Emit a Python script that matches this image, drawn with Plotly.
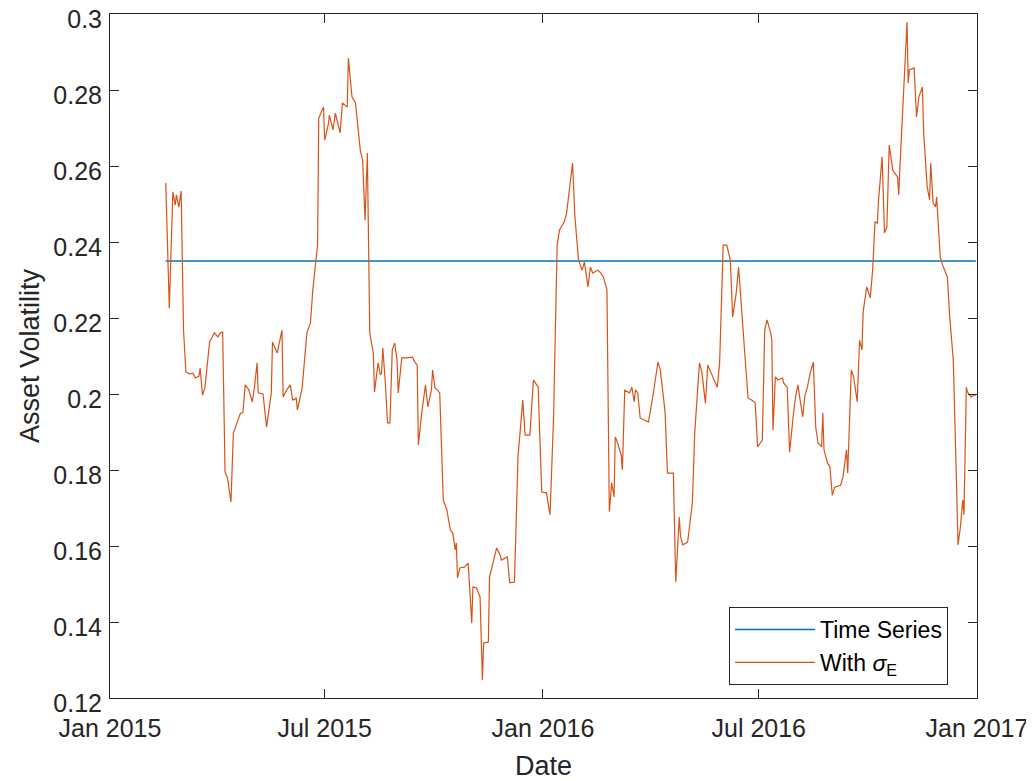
import plotly.graph_objects as go

# ---- data ----
ts_dates = ["2015-02-17", "2016-12-31"]
ts_values = [0.235, 0.235]

sig_dates = [
    "2015-02-17", "2015-02-20", "2015-02-23", "2015-02-25", "2015-02-26", "2015-02-28",
    "2015-03-02", "2015-03-04", "2015-03-06", "2015-03-09", "2015-03-12", "2015-03-14",
    "2015-03-17", "2015-03-18", "2015-03-20", "2015-03-22", "2015-03-26", "2015-03-29",
    "2015-03-30", "2015-04-02", "2015-04-04", "2015-04-06", "2015-04-08", "2015-04-10",
    "2015-04-13", "2015-04-15", "2015-04-18", "2015-04-21", "2015-04-23", "2015-04-25",
    "2015-04-28", "2015-05-01", "2015-05-03", "2015-05-05", "2015-05-06", "2015-05-10",
    "2015-05-13", "2015-05-17", "2015-05-18", "2015-05-22", "2015-05-26", "2015-05-27",
    "2015-05-30", "2015-06-02", "2015-06-04", "2015-06-07", "2015-06-08", "2015-06-12",
    "2015-06-16", "2015-06-19", "2015-06-21", "2015-06-24", "2015-06-25", "2015-06-26",
    "2015-06-30", "2015-07-01", "2015-07-04", "2015-07-05", "2015-07-08", "2015-07-10",
    "2015-07-12", "2015-07-14", "2015-07-16", "2015-07-20", "2015-07-21", "2015-07-24",
    "2015-07-27", "2015-07-31", "2015-08-02", "2015-08-04", "2015-08-06", "2015-08-07",
    "2015-08-08", "2015-08-11", "2015-08-12", "2015-08-15", "2015-08-17", "2015-08-18",
    "2015-08-19", "2015-08-21", "2015-08-23", "2015-08-25", "2015-08-27", "2015-08-29",
    "2015-08-31", "2015-09-01", "2015-09-04", "2015-09-08", "2015-09-13", "2015-09-15",
    "2015-09-17", "2015-09-18", "2015-09-21", "2015-09-24", "2015-09-26", "2015-09-29",
    "2015-09-30", "2015-10-02", "2015-10-04", "2015-10-06", "2015-10-09", "2015-10-12",
    "2015-10-15", "2015-10-17", "2015-10-19", "2015-10-20", "2015-10-21", "2015-10-23",
    "2015-10-27", "2015-10-30", "2015-11-02", "2015-11-03", "2015-11-06", "2015-11-09",
    "2015-11-11", "2015-11-12", "2015-11-16", "2015-11-17", "2015-11-20", "2015-11-23",
    "2015-11-26", "2015-11-27", "2015-12-02", "2015-12-04", "2015-12-08", "2015-12-11",
    "2015-12-15", "2015-12-17", "2015-12-21", "2015-12-24", "2015-12-28", "2015-12-31",
    "2016-01-04", "2016-01-07", "2016-01-10", "2016-01-13", "2016-01-15", "2016-01-19",
    "2016-01-21", "2016-01-26", "2016-01-28", "2016-01-31", "2016-02-03", "2016-02-05",
    "2016-02-08", "2016-02-10", "2016-02-12", "2016-02-16", "2016-02-18", "2016-02-21",
    "2016-02-24", "2016-02-26", "2016-02-28", "2016-03-01", "2016-03-02", "2016-03-04",
    "2016-03-07", "2016-03-08", "2016-03-10", "2016-03-14", "2016-03-16", "2016-03-18",
    "2016-03-19", "2016-03-21", "2016-03-23", "2016-03-30", "2016-04-03", "2016-04-07",
    "2016-04-09", "2016-04-13", "2016-04-15", "2016-04-20", "2016-04-22", "2016-04-25",
    "2016-04-26", "2016-04-28", "2016-05-02", "2016-05-06", "2016-05-08", "2016-05-12",
    "2016-05-14", "2016-05-17", "2016-05-19", "2016-05-23", "2016-05-27", "2016-05-29",
    "2016-06-01", "2016-06-04", "2016-06-07", "2016-06-09", "2016-06-12", "2016-06-14",
    "2016-06-18", "2016-06-19", "2016-06-22", "2016-06-25", "2016-06-28", "2016-06-30",
    "2016-07-04", "2016-07-06", "2016-07-08", "2016-07-11", "2016-07-12", "2016-07-13",
    "2016-07-15", "2016-07-17", "2016-07-21", "2016-07-22", "2016-07-25", "2016-07-27",
    "2016-07-30", "2016-08-01", "2016-08-03", "2016-08-07", "2016-08-09", "2016-08-11",
    "2016-08-13", "2016-08-16", "2016-08-18", "2016-08-20", "2016-08-23", "2016-08-24",
    "2016-08-25", "2016-08-28", "2016-08-30", "2016-09-01", "2016-09-03", "2016-09-08",
    "2016-09-10", "2016-09-13", "2016-09-14", "2016-09-17", "2016-09-19", "2016-09-22",
    "2016-09-24", "2016-09-26", "2016-09-27", "2016-09-30", "2016-10-03", "2016-10-05",
    "2016-10-07", "2016-10-09", "2016-10-10", "2016-10-13", "2016-10-15", "2016-10-17",
    "2016-10-19", "2016-10-22", "2016-10-26", "2016-10-27", "2016-10-28", "2016-10-31",
    "2016-11-01", "2016-11-03", "2016-11-04", "2016-11-05", "2016-11-09", "2016-11-11",
    "2016-11-13", "2016-11-16", "2016-11-17", "2016-11-20", "2016-11-22", "2016-11-23",
    "2016-11-25", "2016-11-27", "2016-11-28", "2016-12-01", "2016-12-03", "2016-12-07",
    "2016-12-09", "2016-12-12", "2016-12-14", "2016-12-16", "2016-12-18", "2016-12-20",
    "2016-12-21", "2016-12-23", "2016-12-24", "2016-12-27", "2016-12-29", "2016-12-31",
]
sig_values = [
    0.2555, 0.2226, 0.2532, 0.2497, 0.2524, 0.2492,
    0.2534, 0.2168, 0.2058, 0.2053, 0.2055, 0.2042,
    0.2047, 0.2068, 0.1997, 0.2016, 0.2137, 0.2155,
    0.2161, 0.2150, 0.2161, 0.2163, 0.1795, 0.1779,
    0.1716, 0.1897, 0.1926, 0.1950, 0.1950, 0.2024,
    0.2011, 0.1979, 0.2024, 0.2082, 0.2003, 0.2000,
    0.1913, 0.2003, 0.2137, 0.2108, 0.2168, 0.1992,
    0.2011, 0.2024, 0.1984, 0.1989, 0.1958, 0.2016,
    0.2161, 0.2187, 0.2274, 0.2379, 0.2392, 0.2726,
    0.2755, 0.2668, 0.2708, 0.2734, 0.2695, 0.2739,
    0.2708, 0.2687, 0.2766, 0.2755, 0.2884, 0.2782,
    0.2766, 0.2642, 0.2616, 0.2458, 0.2634, 0.2334,
    0.2161, 0.2108, 0.2005, 0.2082, 0.2050, 0.2055,
    0.2121, 0.2037, 0.1924, 0.1924, 0.2116, 0.2134,
    0.2089, 0.2003, 0.2095, 0.2095, 0.2097, 0.2084,
    0.2076, 0.1866, 0.1955, 0.2024, 0.1966, 0.2011,
    0.2063, 0.2016, 0.2011, 0.2003, 0.1721, 0.1695,
    0.1642, 0.1634, 0.1590, 0.1608, 0.1516, 0.1542,
    0.1545, 0.1555, 0.1397, 0.1492, 0.1490, 0.1466,
    0.1247, 0.1345, 0.1347, 0.1518, 0.1555, 0.1595,
    0.1576, 0.1563, 0.1571, 0.1503, 0.1505, 0.1834,
    0.1984, 0.1892, 0.1892, 0.2037, 0.2018, 0.1742,
    0.1740, 0.1682, 0.1939, 0.2392, 0.2432, 0.2453,
    0.2476, 0.2608, 0.2466, 0.2353, 0.2326, 0.2347,
    0.2282, 0.2334, 0.2318, 0.2326, 0.2321, 0.2308,
    0.2274, 0.1690, 0.1766, 0.1729, 0.1887, 0.1871,
    0.1839, 0.1800, 0.2010, 0.2003, 0.2018, 0.1979,
    0.2011, 0.2003, 0.1937, 0.1926, 0.2000, 0.2084,
    0.2063, 0.1953, 0.1792, 0.1792, 0.1505, 0.1676,
    0.1625, 0.1603, 0.1610, 0.1713, 0.1897, 0.2082,
    0.2058, 0.1976, 0.2076, 0.2045, 0.2018, 0.2082,
    0.2392, 0.2392, 0.2353, 0.2203, 0.2266, 0.2334,
    0.2176, 0.2116, 0.1989, 0.1984, 0.1976, 0.1861,
    0.1879, 0.2168, 0.2195, 0.2161, 0.2142, 0.1905,
    0.2045, 0.2037, 0.2042, 0.2029, 0.2018, 0.1847,
    0.1940, 0.1992, 0.2024, 0.1940, 0.1997, 0.2018,
    0.2050, 0.2084, 0.1913, 0.1871, 0.1861, 0.1950,
    0.1853, 0.1818, 0.1808, 0.1734, 0.1755, 0.1760,
    0.1782, 0.1853, 0.1792, 0.2063, 0.2045, 0.1979,
    0.2142, 0.2116, 0.2216, 0.2282, 0.2253, 0.2326,
    0.2453, 0.2450, 0.2511, 0.2624, 0.2424, 0.2439,
    0.2655, 0.2589, 0.2571, 0.2524, 0.2597, 0.2800,
    0.2861, 0.2979, 0.2818, 0.2853, 0.2858, 0.2729,
    0.2782, 0.2808, 0.2687, 0.2545, 0.2511, 0.2608,
    0.2503, 0.2492, 0.2518, 0.2361, 0.2339, 0.2308,
    0.2203, 0.2089, 0.1853, 0.1603, 0.1650, 0.1721,
    0.1682, 0.2018, 0.2005, 0.1992, 0.1997, 0.1997,
]

x_tick_vals = ["2015-01-01", "2015-07-01", "2016-01-01", "2016-07-01", "2017-01-01"]
x_tick_text = ["Jan 2015", "Jul 2015", "Jan 2016", "Jul 2016", "Jan 2017"]
y_tick_vals = [0.12, 0.14, 0.16, 0.18, 0.2, 0.22, 0.24, 0.26, 0.28, 0.3]
y_tick_text = ["0.12", "0.14", "0.16", "0.18", "0.2", "0.22", "0.24", "0.26", "0.28", "0.3"]

FONT = "Liberation Sans, Arial, Helvetica, sans-serif"
AXC = "#262626"

fig = go.Figure()
fig.add_trace(go.Scatter(
    x=ts_dates, y=ts_values, mode="lines", name="Time Series",
    line=dict(color="#0072BD", width=1.5),
))
fig.add_trace(go.Scatter(
    x=sig_dates, y=sig_values, mode="lines", name="With <i>σ</i><sub>E</sub>",
    line=dict(color="#D95319", width=1.2),
))

axis_common = dict(
    showline=True, linecolor=AXC, linewidth=1, mirror="ticks",
    ticks="inside", ticklen=9, tickcolor=AXC, tickwidth=1,
    showgrid=False, zeroline=False, automargin=False,
    ticklabeloverflow="allow",
    tickfont=dict(family=FONT, size=25, color=AXC),
)

# the page body adds an 8px offset, so the figure is shrunk by 8px
fig.update_layout(
    width=1026, height=773,
    margin=dict(l=102, r=57, t=6, b=83),
    paper_bgcolor="white", plot_bgcolor="white",
    font=dict(family=FONT, color=AXC),
    xaxis=dict(
        range=["2015-01-01", "2017-01-01"], type="date",
        tickmode="array", tickvals=x_tick_vals, ticktext=x_tick_text,
        title=dict(text="Date", font=dict(family=FONT, size=27, color=AXC), standoff=25),
        ticklabelstandoff=8,
        **axis_common,
    ),
    yaxis=dict(
        range=[0.12, 0.30],
        tickmode="array", tickvals=y_tick_vals, ticktext=y_tick_text,
        title=dict(text="Asset Volatility", font=dict(family=FONT, size=27, color=AXC), standoff=5),
        ticklabelstandoff=2, ticklabelshift=5,
        **axis_common,
    ),
    legend=dict(
        x=0.9666, y=0.019, xanchor="right", yanchor="bottom",
        bgcolor="white", bordercolor=AXC, borderwidth=1,
        font=dict(family=FONT, size=23, color="#000000"),
        tracegroupgap=0, itemwidth=80,
    ),
    showlegend=True,
)

fig.write_html("out.html")
